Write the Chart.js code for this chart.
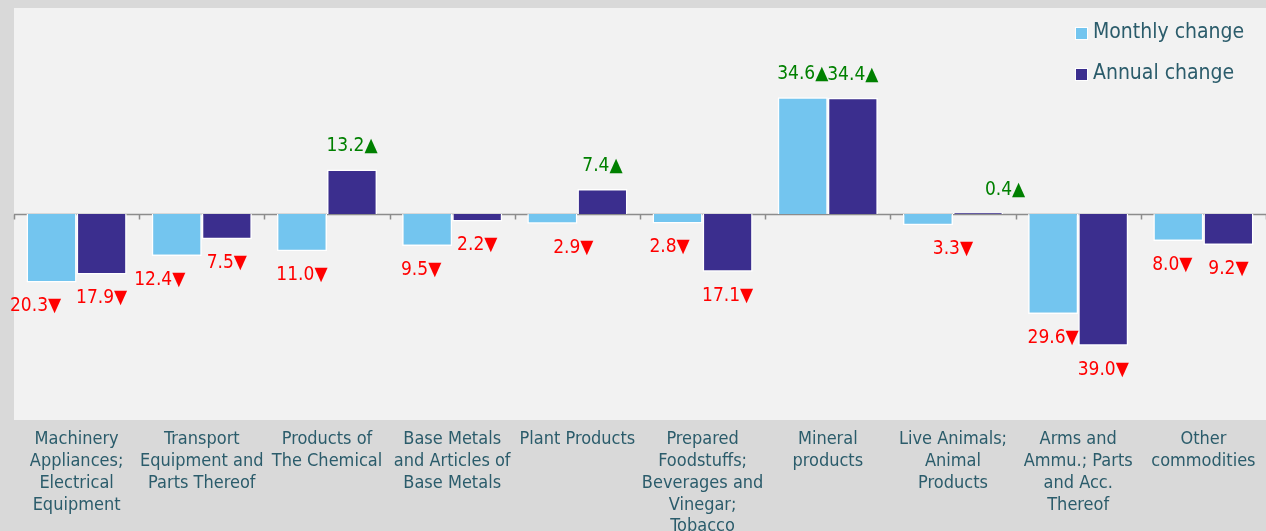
<!DOCTYPE html>
<html>
<head>
<meta charset="utf-8">
<script src="https://cdn.jsdelivr.net/npm/chart.js@4.4.0/dist/chart.umd.min.js"></script>
<style>
  html, body { margin: 0; padding: 0; background: #d9d9d9; }
  #wrap { width: 1266px; height: 531px; }
</style>
</head>
<body>
<div id="wrap"><canvas id="chart" width="1266" height="531"></canvas></div>
<script>
// categories (wrapped labels)
var categories = [
  ['Machinery', 'Appliances;', 'Electrical', 'Equipment'],
  ['Transport', 'Equipment and', 'Parts Thereof'],
  ['Products of', 'The Chemical'],
  ['Base Metals', 'and Articles of', 'Base Metals'],
  ['Plant Products'],
  ['Prepared', 'Foodstuffs;', 'Beverages and', 'Vinegar;', 'Tobacco'],
  ['Mineral', 'products'],
  ['Live Animals;', 'Animal', 'Products'],
  ['Arms and', 'Ammu.; Parts', 'and Acc.', 'Thereof'],
  ['Other', 'commodities']
];

// values (%)
var monthlyChange = [-20.3, -12.4, -11.0, -9.5, -2.9, -2.8, 34.6, -3.3, -29.6, -8.0];
var annualChange  = [-17.9, -7.5, 13.2, -2.2, 7.4, -17.1, 34.4, 0.4, -39.0, -9.2];

var seriesNames = ['Monthly change', 'Annual change'];

var FONT = '"DejaVu Sans Condensed", "DejaVu Sans", sans-serif';
var TEXT_COLOR = '#2b5c6b';
var COLORS = ['#73c5ef', '#3b2e8e'];

// small horizontal nudges for value labels, as in the original
var labelNudge = [
  [-16, -17, 0, -6, 21, -8, 0, 25, 0, -6],
  [0, 0, 0, 0, 0, 0, 0, 27, 0, 0]
];

// backgrounds: canvas + plot area
var bgPlugin = {
  id: 'bg',
  beforeDraw: function (chart) {
    var ctx = chart.ctx, a = chart.chartArea;
    ctx.save();
    ctx.fillStyle = '#d9d9d9';
    ctx.fillRect(0, 0, chart.width, chart.height);
    ctx.fillStyle = '#f2f2f2';
    ctx.fillRect(a.left, a.top, a.right - a.left, a.bottom - a.top);
    ctx.restore();
  },
  // zero line with category tick marks, drawn under the bars
  beforeDatasetsDraw: function (chart) {
    var ctx = chart.ctx, a = chart.chartArea;
    var x = chart.scales.x, y = chart.scales.y;
    var y0 = Math.round(y.getPixelForValue(0)) + 0.5;
    ctx.save();
    ctx.strokeStyle = '#8c8c8c';
    ctx.lineWidth = 1.5;
    ctx.beginPath();
    ctx.moveTo(a.left, y0);
    ctx.lineTo(a.right, y0);
    for (var i = 0; i <= categories.length; i++) {
      var px = Math.round(x.getPixelForValue(i - 0.5)) + 0.5;
      ctx.moveTo(px, y0);
      ctx.lineTo(px, y0 + 5);
    }
    ctx.stroke();
    ctx.restore();
  }
};

// value labels with arrows
var valuePlugin = {
  id: 'values',
  afterDatasetsDraw: function (chart) {
    var ctx = chart.ctx;
    ctx.save();
    ctx.font = '19px ' + FONT;
    ctx.textAlign = 'center';
    ctx.textBaseline = 'middle';
    chart.data.datasets.forEach(function (ds, di) {
      var meta = chart.getDatasetMeta(di);
      meta.data.forEach(function (bar, i) {
        var v = ds.data[i];
        var up = v >= 0;
        var txt = Math.abs(v).toFixed(1) + (up ? '\u25B2' : '\u25BC');
        ctx.fillStyle = up ? '#008000' : '#ff0000';
        var yy = up ? bar.y - 23 : bar.y + 24;
        ctx.fillText(txt, bar.x + labelNudge[di][i], yy);
      });
    });
    ctx.restore();
  }
};

// legend, top right, stacked
var legendPlugin = {
  id: 'sideLegend',
  afterDraw: function (chart) {
    var ctx = chart.ctx;
    ctx.save();
    ctx.font = '21px ' + FONT;
    ctx.textBaseline = 'middle';
    ctx.textAlign = 'left';
    seriesNames.forEach(function (name, i) {
      var cy = 33 + i * 41;
      ctx.fillStyle = '#ffffff';
      ctx.fillRect(1075, cy - 6, 13, 13);
      ctx.fillStyle = COLORS[i];
      ctx.fillRect(1076, cy - 5, 11, 11);
      ctx.fillStyle = TEXT_COLOR;
      ctx.fillText(name, 1093, cy);
    });
    ctx.restore();
  }
};

new Chart(document.getElementById('chart'), {
  type: 'bar',
  data: {
    labels: categories,
    datasets: [
      { label: seriesNames[0], data: monthlyChange, backgroundColor: COLORS[0],
        borderColor: '#ffffff', borderWidth: 1.5 },
      { label: seriesNames[1], data: annualChange, backgroundColor: COLORS[1],
        borderColor: '#ffffff', borderWidth: 1.5 }
    ]
  },
  options: {
    responsive: false,
    animation: false,
    layout: { padding: { left: 14, top: 8, right: 0, bottom: 0 } },
    datasets: { bar: { barPercentage: 1, categoryPercentage: 0.8 } },
    plugins: {
      legend: { display: false },
      tooltip: { enabled: false }
    },
    scales: {
      x: {
        grid: { display: false },
        border: { display: false },
        ticks: {
          color: TEXT_COLOR,
          font: { family: FONT, size: 18, lineHeight: 1.22 },
          padding: 0,
          maxRotation: 0,
          autoSkip: false
        },
        afterFit: function (s) { s.height = 111; }
      },
      y: {
        display: false,
        min: -61,
        max: 61
      }
    }
  },
  plugins: [bgPlugin, valuePlugin, legendPlugin]
});
</script>
</body>
</html>
